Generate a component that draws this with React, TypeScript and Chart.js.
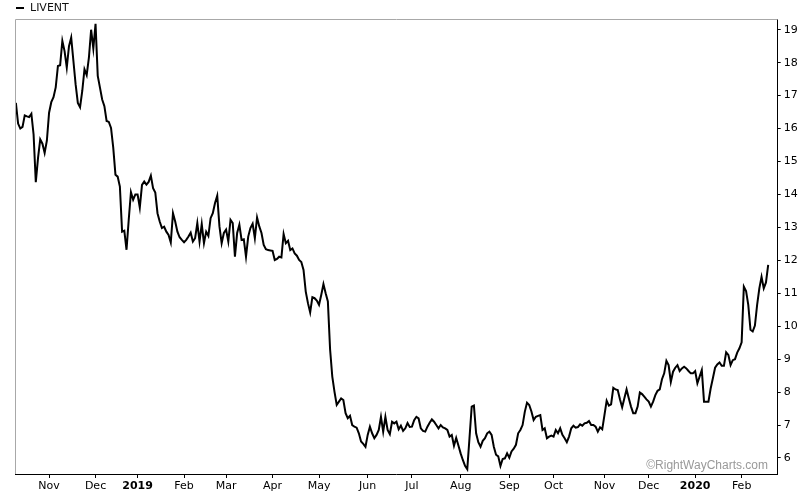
import React, { useEffect, useRef } from "react";
import { Chart, registerables } from "chart.js";

Chart.register(...registerables);

// LIVENT daily closes, grouped by month (trading days)
const oct18 = [16.78, 16.15, 16.0, 16.05, 16.4, 16.37, 16.35, 16.45, 15.82, 14.37, 15.1, 15.67, 15.54, 15.26, 15.63];
const nov18 = [16.48, 16.8, 16.95, 17.25, 17.9, 17.92, 18.66, 18.35, 17.85, 18.5, 18.76, 18.05, 17.34, 16.78, 16.65, 17.14, 17.8, 17.62, 18.15, 19.0, 18.43];
const dec18 = [19.18, 17.6, 17.24, 16.88, 16.68, 16.23, 16.2, 16.02, 15.42, 14.6, 14.54, 14.24, 12.87, 12.9, 12.32, 13.23, 14.07, 13.84, 14.0];
const jan19 = [14.0, 13.6, 14.29, 14.39, 14.3, 14.38, 14.57, 14.19, 14.06, 13.43, 13.18, 12.98, 13.02, 12.87, 12.77, 12.54, 13.43, 13.18, 12.87, 12.7, 12.62];
const feb19 = [12.55, 12.62, 12.72, 12.84, 12.57, 12.67, 13.13, 12.57, 13.1, 12.52, 12.87, 12.74, 13.28, 13.43, 13.74, 13.96, 13.03, 12.52, 12.83];
const mar19 = [12.93, 12.57, 13.23, 13.13, 12.11, 12.83, 13.08, 12.62, 12.64, 12.11, 12.72, 12.98, 13.11, 12.67, 13.3, 13.03, 12.83, 12.47, 12.34, 12.31, 12.3];
const apr19 = [12.29, 12.01, 12.04, 12.11, 12.09, 12.8, 12.52, 12.59, 12.31, 12.36, 12.21, 12.14, 12.01, 11.95, 11.71, 11.05, 10.7, 10.42, 10.88, 10.85, 10.78];
const may19 = [10.65, 10.95, 11.28, 11.0, 10.75, 9.3, 8.47, 8.01, 7.61, 7.71, 7.81, 7.76, 7.36, 7.21, 7.28, 7.0, 6.95, 6.92, 6.75, 6.5, 6.43, 6.34];
const jun19 = [6.7, 6.95, 6.75, 6.6, 6.7, 6.85, 7.25, 6.8, 7.25, 6.85, 6.72, 7.1, 7.05, 7.1, 6.87, 6.98, 6.82, 6.9, 7.06, 6.94];
const jul19 = [6.95, 7.15, 7.25, 7.2, 6.9, 6.82, 6.8, 6.95, 7.07, 7.17, 7.1, 7.0, 6.9, 7.0, 6.93, 6.9, 6.85, 6.65, 6.7, 6.37, 6.61, 6.38];
const aug19 = [6.14, 5.94, 5.76, 5.66, 6.6, 7.56, 7.59, 6.75, 6.48, 6.34, 6.52, 6.6, 6.75, 6.8, 6.7, 6.34, 6.1, 6.05, 5.76, 5.97, 5.99, 6.14];
const sep19 = [6.01, 6.2, 6.28, 6.4, 6.75, 6.85, 7.0, 7.4, 7.68, 7.61, 7.41, 7.15, 7.25, 7.28, 7.3, 6.85, 6.9, 6.6, 6.65, 6.68];
const oct19 = [6.65, 6.85, 6.75, 6.9, 6.7, 6.6, 6.48, 6.65, 6.9, 6.98, 6.92, 6.94, 7.02, 6.98, 7.05, 7.07, 7.12, 7.0, 7.0, 6.95, 6.8, 6.93, 6.87];
const nov19 = [7.3, 7.74, 7.59, 7.63, 8.13, 8.08, 8.06, 7.78, 7.54, 7.81, 8.08, 7.81, 7.56, 7.36, 7.36, 7.56, 7.99, 7.94, 7.86, 7.78];
const dec19 = [7.71, 7.56, 7.71, 7.91, 8.04, 8.08, 8.39, 8.57, 8.95, 8.82, 8.31, 8.62, 8.74, 8.82, 8.64, 8.72, 8.77, 8.72, 8.64, 8.57, 8.57];
const jan20 = [8.64, 8.27, 8.47, 8.67, 7.71, 7.71, 7.71, 8.11, 8.42, 8.74, 8.84, 8.9, 8.8, 8.8, 9.21, 9.13, 8.82, 8.97, 9.0, 9.2, 9.33];
const feb20 = [9.51, 11.2, 11.07, 10.65, 9.89, 9.84, 10.02, 10.65, 11.15, 11.5, 11.15, 11.33, 11.86];

const months = [oct18, nov18, dec18, jan19, feb19, mar19, apr19, may19, jun19, jul19, aug19, sep19, oct19, nov19, dec19, jan20, feb20];
// labels for the start of each month after the first
const monthLabels = ["Nov", "Dec", "2019", "Feb", "Mar", "Apr", "May", "Jun", "Jul", "Aug", "Sep", "Oct", "Nov", "Dec", "2020", "Feb"];
const yTickValues = [6, 7, 8, 9, 10, 11, 12, 13, 14, 15, 16, 17, 18, 19];
const seriesName = "LIVENT";

export default function App() {
  const ref = useRef<HTMLCanvasElement | null>(null);

  useEffect(() => {
    if (!ref.current) return;
    const values: number[] = [];
    const monthStarts: number[] = [];
    months.forEach((m, i) => {
      if (i > 0) monthStarts.push(values.length);
      values.push(...m);
    });
    const points = values.map((v, i) => ({ x: i, y: v }));

    const framePlugin = {
      id: "frame",
      afterDraw(chart: any) {
        const { ctx, chartArea } = chart;
        ctx.save();
        ctx.strokeStyle = "#a8a8a8";
        ctx.lineWidth = 1;
        ctx.beginPath();
        ctx.moveTo(chartArea.left + 0.5, chartArea.bottom);
        ctx.lineTo(chartArea.left + 0.5, chartArea.top + 0.5);
        ctx.lineTo(chartArea.right, chartArea.top + 0.5);
        ctx.stroke();
        // legend
        ctx.fillStyle = "#000";
        ctx.fillRect(16, 7, 8, 2);
        ctx.font = "11px 'DejaVu Sans'";
        ctx.textBaseline = "middle";
        ctx.textAlign = "left";
        ctx.fillStyle = "#111";
        ctx.fillText(seriesName, 30, 8.5);
        // watermark
        ctx.font = "12px 'Liberation Sans'";
        ctx.fillStyle = "#999";
        ctx.textAlign = "right";
        ctx.fillText("\u00A9RightWayCharts.com", 768, 466);
        ctx.restore();
      },
    };

    const chart = new Chart(ref.current, {
      type: "line",
      data: {
        datasets: [
          {
            label: seriesName,
            data: points,
            borderColor: "#000",
            borderWidth: 2,
            pointRadius: 0,
            tension: 0,
            fill: false,
          },
        ],
      },
      options: {
        animation: false,
        responsive: false,
        devicePixelRatio: 1,
        layout: { padding: { left: 15, top: 19, right: 0, bottom: 0 } },
        plugins: { legend: { display: false }, tooltip: { enabled: false } },
        scales: {
          x: {
            type: "linear",
            min: -0.4,
            max: 344.3,
            afterBuildTicks: (scale: any) => {
              scale.ticks = monthStarts.map((v) => ({ value: v }));
            },
            afterFit: (scale: any) => {
              scale.height = 20;
            },
            ticks: {
              autoSkip: false,
              maxRotation: 0,
              minRotation: 0,
              padding: 2,
              color: "#000",
              font: (c: any) => {
                const lbl = monthLabels[c.index] || "";
                return {
                  family: "'DejaVu Sans'",
                  size: 11,
                  weight: /^\d{4}$/.test(lbl) ? "bold" : "normal",
                } as any;
              },
              callback: (_v: any, i: number) => monthLabels[i],
            },
            grid: { display: true, drawOnChartArea: false, drawTicks: true, tickLength: 4, color: "#000" },
            border: { display: true, color: "#000", width: 1 },
          },
          y: {
            type: "linear",
            position: "right",
            min: 5.514,
            max: 19.325,
            afterBuildTicks: (scale: any) => {
              scale.ticks = yTickValues.map((v) => ({ value: v }));
            },
            afterFit: (scale: any) => {
              scale.width = 22.3;
            },
            ticks: {
              padding: 3,
              color: "#000",
              font: { family: "'DejaVu Sans'", size: 11 },
              callback: (v: any) => String(v),
            },
            grid: { display: true, drawOnChartArea: false, drawTicks: true, tickLength: 3, color: "#000" },
            border: { display: true, color: "#000", width: 1 },
          },
        },
      },
      plugins: [framePlugin],
    } as any);

    return () => chart.destroy();
  }, []);

  return (
    <div style={{ position: "fixed", left: 0, top: 0, width: 800, height: 494, background: "#fff" }}>
      <canvas ref={ref} width={800} height={494} style={{ width: 800, height: 494, display: "block" }} />
    </div>
  );
}
